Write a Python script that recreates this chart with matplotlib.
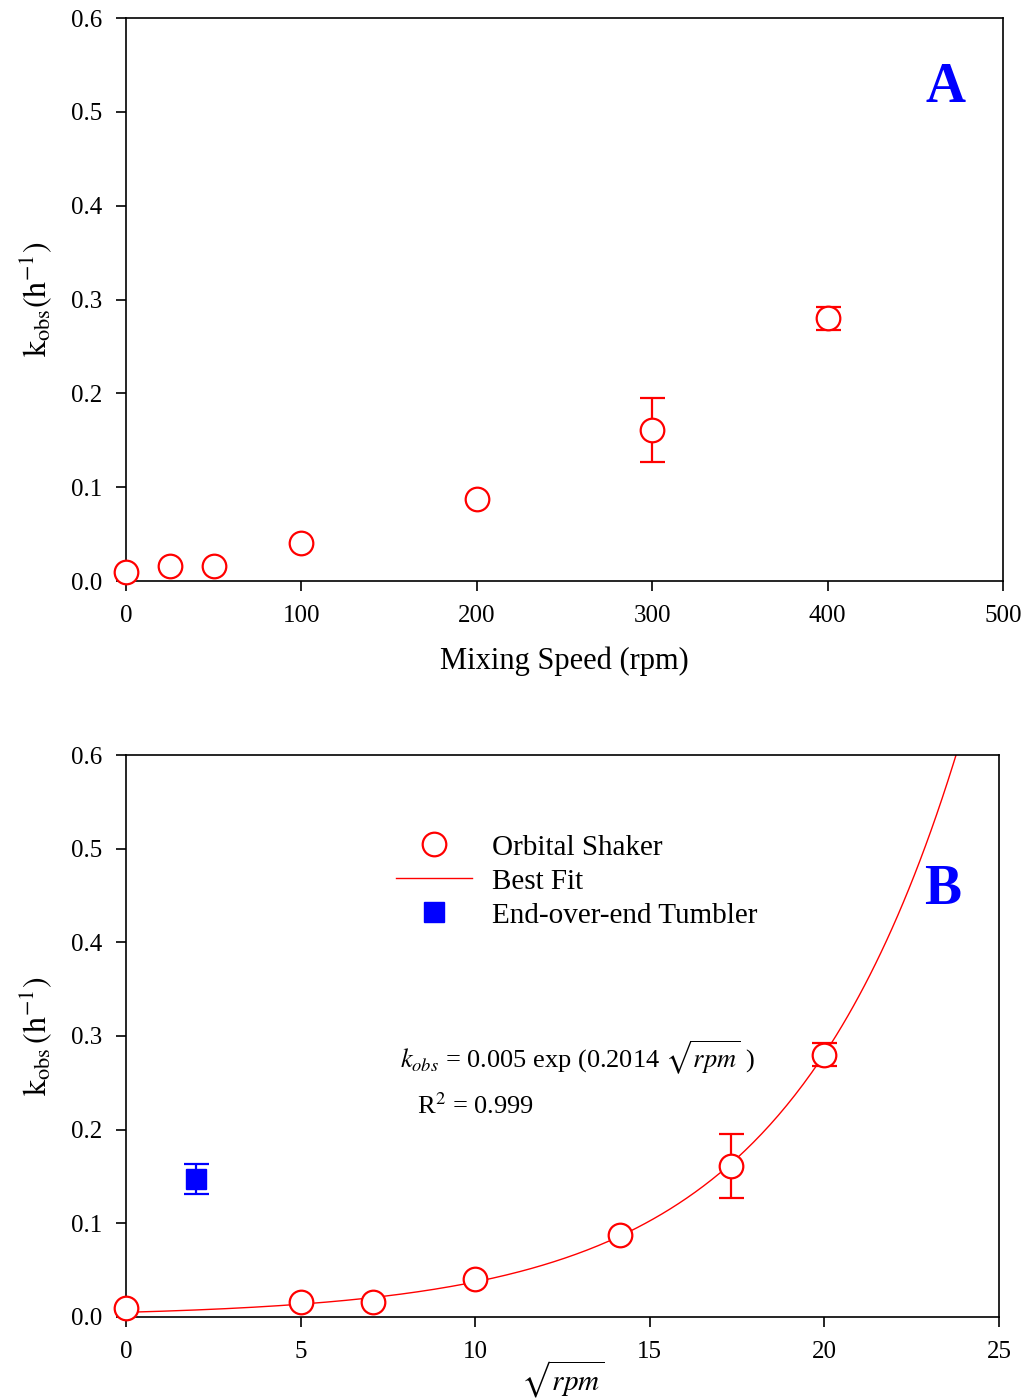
import numpy as np
import matplotlib
matplotlib.use("Agg")
import matplotlib.pyplot as plt
from matplotlib.lines import Line2D

plt.rcParams['font.family'] = ['Liberation Serif', 'DejaVu Serif']
plt.rcParams['mathtext.fontset'] = 'stix'

# Panel A data
rpm = [0, 25, 50, 100, 200, 300, 400]
kobs = [0.0096, 0.016, 0.016, 0.0405, 0.0874, 0.161, 0.280]
kerr = [0, 0, 0, 0, 0, 0.034, 0.012]

# Panel B data
sqrt_rpm = [0, 5, 7.07, 10, 14.14, 17.32, 20]
tumbler_x = [2.0]
tumbler_y = [0.147]
tumbler_err = [0.016]
fit_a = 0.005
fit_b = 0.2014

xticksA = [0, 100, 200, 300, 400, 500]
xticksB = [0, 5, 10, 15, 20, 25]
yticks = [0.0, 0.1, 0.2, 0.3, 0.4, 0.5, 0.6]

fig = plt.figure(figsize=(10.29, 14), dpi=100)
axA = fig.add_axes([0.1224, 0.585, 0.8523, 0.4021])
axB = fig.add_axes([0.1224, 0.0593, 0.8484, 0.4014])

red = '#ff0000'
blue = '#0000ff'
tick_fs = 18

def style(ax):
    for s in ['top', 'right', 'left', 'bottom']:
        ax.spines[s].set_linewidth(1.2)
    ax.tick_params(direction='out', length=7, width=1.2, labelsize=tick_fs,
                   top=False, right=False)
    ax.tick_params(axis='x', pad=10)
    ax.tick_params(axis='y', pad=10)
    ax.set_yticks(yticks)
    ax.set_yticklabels([f'{v:.1f}' for v in yticks])
    ax.set_ylim(0, 0.6)

def points(ax, xv, yv, ev):
    xe = [x for x, e in zip(xv, ev) if e > 0]
    ye = [y for y, e in zip(yv, ev) if e > 0]
    ee = [e for e in ev if e > 0]
    ax.errorbar(xe, ye, yerr=ee, fmt='none', ecolor=red, elinewidth=1.6, capsize=9,
                capthick=1.6, zorder=3)
    ax.plot(xv, yv, ls='none', marker='o', ms=17, mfc='white', mec=red, mew=1.6,
            clip_on=False, zorder=4)

# Panel A
points(axA, rpm, kobs, kerr)
axA.set_xlim(0, 500)
axA.set_xticks(xticksA)
style(axA)
axA.set_xlabel('Mixing Speed (rpm)', fontsize=22, labelpad=14)
axA.set_ylabel(r'$\mathrm{k_{obs}(h^{-1})}$', fontsize=23, labelpad=12)
axA.text(0.935, 0.876, 'A', transform=axA.transAxes, fontsize=40, fontweight='bold',
         color=blue, ha='center', va='center')

# Panel B
xs = np.linspace(0, np.log(0.6 / fit_a) / fit_b, 300)
axB.plot(xs, fit_a * np.exp(fit_b * xs), color=red, lw=1.0, zorder=2)
points(axB, sqrt_rpm, kobs, kerr)
axB.errorbar(tumbler_x, tumbler_y, yerr=tumbler_err, fmt='s', ms=14, mfc=blue, mec=blue,
             ecolor=blue, elinewidth=1.6, capsize=9, capthick=1.6, zorder=3)
axB.set_xlim(0, 25)
axB.set_xticks(xticksB)
style(axB)
axB.set_xlabel(r'$\sqrt{rpm}$', fontsize=21, va='top')
axB.xaxis.set_label_coords(0.5, -0.074)
axB.set_ylabel(r'$\mathrm{k_{obs}\,(h^{-1})}$', fontsize=23, labelpad=12)
axB.text(0.935, 0.76, 'B', transform=axB.transAxes, fontsize=40, fontweight='bold',
         color=blue, ha='center', va='center')

# Legend
handles = [Line2D([], [], ls='none', marker='o', ms=17, mfc='none', mec=red, mew=1.6),
           Line2D([], [], color=red, lw=1.0),
           Line2D([], [], ls='none', marker='s', ms=14, mfc=blue, mec=blue)]
axB.legend(handles, ['Orbital Shaker', 'Best Fit', 'End-over-end Tumbler'],
           loc='upper left', bbox_to_anchor=(0.296, 0.88), frameon=False, fontsize=21,
           handlelength=2.6, labelspacing=0.26, handletextpad=0.7, borderaxespad=0.0)

axB.text(7.85, 0.2765, r'$k_{obs}$ = 0.005 exp (0.2014 $\sqrt{rpm}$ )', fontsize=19,
         ha='left', va='center')
axB.text(8.33, 0.225, r'R$^2$ = 0.999', fontsize=19, ha='left', va='center')

fig.savefig('out.png', dpi=100)
